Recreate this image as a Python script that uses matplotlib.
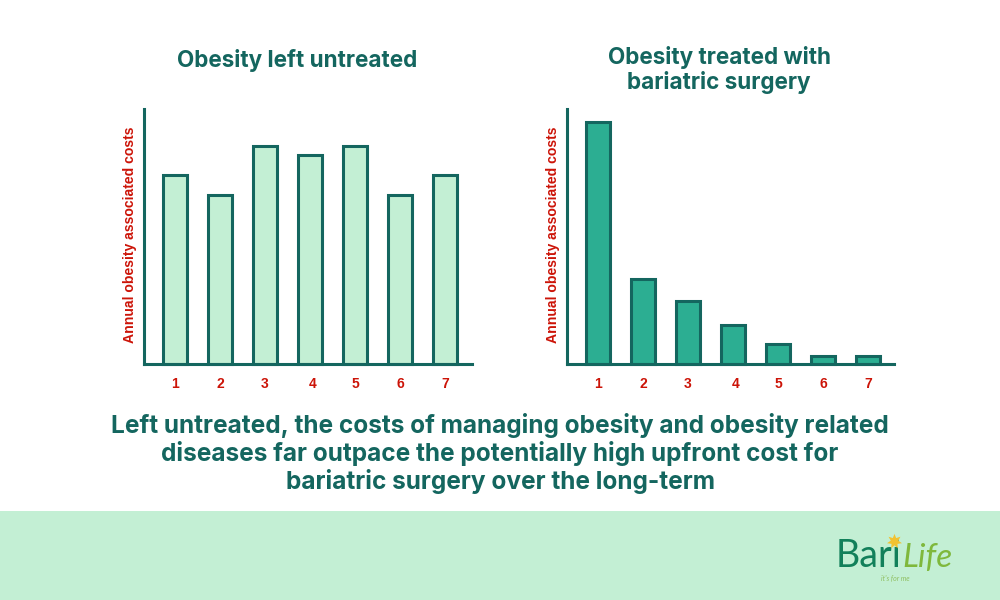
#!/usr/bin/env python3
"""Annual obesity costs, untreated vs. treated with bariatric surgery."""

import matplotlib
matplotlib.use('Agg')
import matplotlib.pyplot as plt
from matplotlib.lines import Line2D
from matplotlib.patches import Rectangle
from matplotlib.transforms import ScaledTranslation

years = [1, 2, 3, 4, 5, 6, 7]
untreated_costs = [189, 169, 218, 209, 218, 169, 189]
treated_costs = [242, 85, 63, 39, 20, 8, 8]

DARK = '#14665f'
LIGHT = '#c3efd4'
MID = '#2cae92'
RED = '#cc1408'
HEAD_FONT = 'Inter'
W, H = 1000, 600

fig = plt.figure(figsize=(10, 6), dpi=100, facecolor='white')


def add_panel(x0, x1, first_bar, values, fill):
    ax = fig.add_axes([x0 / W, 1 - 364 / H, (x1 - x0) / W, 255 / H])
    ax.set_facecolor('none')
    ax.bar(years, values, width=0.54, color=fill, edgecolor=DARK, linewidth=2.2, clip_on=False)
    ax.set_xlim(1 - (first_bar - x0) / 45, 1 + (x1 - first_bar) / 45)
    ax.set_ylim(0, 255)
    ax.set_yticks([])
    ax.set_xticks(years)
    ax.set_xticklabels(years, fontsize=10, fontweight='bold', color=RED, family='Liberation Sans')
    ax.tick_params(axis='x', length=0, pad=9)
    # the 4 sits a little right of its bar in the original
    lab = ax.get_xticklabels()[3]
    lab.set_transform(lab.get_transform() + ScaledTranslation(3 / 100, 0, fig.dpi_scale_trans))
    for side in ('top', 'right'):
        ax.spines[side].set_visible(False)
    for side in ('left', 'bottom'):
        ax.spines[side].set_color(DARK)
        ax.spines[side].set_linewidth(2.2)
    fig.text((x0 - 14) / W, 1 - 235 / H, 'Annual obesity associated costs', rotation=90,
             ha='center', va='center', fontsize=10.1, fontweight='bold', color=RED,
             family='Liberation Sans')
    return ax


add_panel(144, 472, 175, untreated_costs, LIGHT)
add_panel(567, 894, 598, treated_costs, MID)

fig.text(297 / W, 1 - 60 / H, 'Obesity left untreated', ha='center', va='center',
         fontsize=16.2, fontweight='bold', color=DARK, family=HEAD_FONT)
fig.text(719 / W, 1 - 70 / H, 'Obesity treated with\nbariatric surgery', ha='center', va='center',
         fontsize=16.2, fontweight='bold', color=DARK, family=HEAD_FONT, linespacing=1.15)
fig.text(500 / W, 1 - 453.5 / H,
         'Left untreated, the costs of managing obesity and obesity related\n'
         'diseases far outpace the potentially high upfront cost for\n'
         'bariatric surgery over the long-term',
         ha='center', va='center', fontsize=17.6, fontweight='bold', color=DARK,
         family=HEAD_FONT, linespacing=1.15)

# footer band and logo
fig.patches.append(Rectangle((0, 0), 1, 89 / H, transform=fig.transFigure, facecolor=LIGHT,
                             edgecolor='none', zorder=-1))
fig.text(836 / W, 1 - 567 / H, 'Bari', fontsize=27, color='#12805a', family='Lato',
         ha='left', va='baseline')
fig.text(902 / W, 1 - 567 / H, 'Life', fontsize=24, color='#7fb83c', family='Lato',
         style='italic', ha='left', va='baseline')
fig.text(895 / W, 1 - 580 / H, "it's for me", fontsize=5, color='#8fbf60', family='Lato',
         style='italic', ha='center', va='baseline')
fig.add_artist(Line2D([894 / W], [1 - 541 / H], transform=fig.transFigure, marker=(7, 1, 0),
                      markersize=11, color='#f2c230', markeredgecolor='none', linestyle='none',
                      zorder=10))

fig.savefig('out.png', dpi=100)
